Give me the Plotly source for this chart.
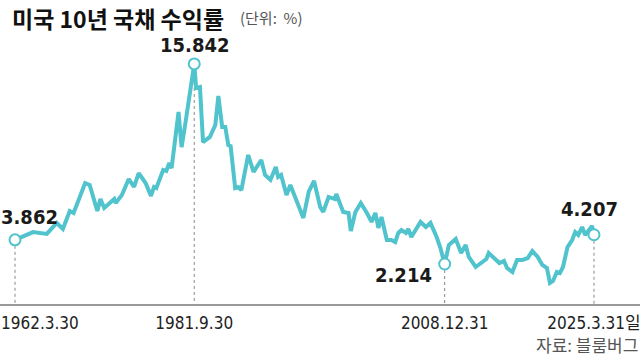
import plotly.graph_objects as go

# ---- data ----
dates = [
    "1962-03-30", "1962-10-15", "1964-03-15", "1965-09-15", "1966-10-15", "1967-06-15",
    "1968-03-15", "1968-08-15", "1969-11-15", "1970-05-15", "1971-03-15", "1971-07-15",
    "1971-12-15", "1973-01-15", "1973-03-15", "1973-11-15", "1974-08-15", "1975-03-15",
    "1975-09-15", "1976-06-15", "1977-01-15", "1977-05-15", "1977-08-15", "1978-05-15",
    "1978-09-15", "1979-01-15", "1979-04-15", "1980-01-15", "1980-05-15", "1980-10-15",
    "1981-03-15", "1981-09-30", "1981-12-15", "1982-05-15", "1982-09-15", "1983-06-15",
    "1984-01-15", "1984-05-15", "1984-10-15", "1985-02-15", "1985-06-15", "1985-09-15",
    "1986-03-15", "1986-07-15", "1986-11-15", "1987-08-15", "1988-03-15", "1989-01-15",
    "1989-06-15", "1990-01-15", "1990-08-15", "1990-11-15", "1991-03-15", "1991-10-15",
    "1992-03-15", "1993-08-15", "1994-03-15", "1994-10-15", "1995-06-15", "1995-10-15",
    "1996-05-15", "1997-01-15", "1997-03-15", "1997-12-15", "1998-07-15", "1998-10-15",
    "1999-04-15", "1999-11-15", "2000-07-15", "2001-01-15", "2001-06-15", "2001-10-15",
    "2002-02-15", "2002-09-15", "2003-03-15", "2003-08-15", "2003-12-15", "2004-04-15",
    "2004-10-15", "2005-01-15", "2005-05-15", "2006-05-15", "2006-12-15", "2007-06-15",
    "2008-02-15", "2008-07-15", "2008-12-31", "2009-06-15", "2010-03-15", "2010-10-15",
    "2011-04-15", "2011-08-15", "2012-05-15", "2012-09-15", "2013-07-15", "2013-10-15",
    "2014-05-15", "2014-12-15", "2015-06-15", "2015-10-15", "2016-05-15", "2016-11-15",
    "2017-06-15", "2018-01-15", "2018-07-15", "2019-02-15", "2019-08-15", "2020-02-15",
    "2020-06-15", "2020-10-15", "2021-03-15", "2021-07-15", "2021-11-15", "2022-05-15",
    "2022-11-15", "2023-03-15", "2023-07-15", "2023-12-15", "2024-04-15", "2024-08-15",
    "2025-01-15", "2025-03-31",
]
yields = [
    3.862, 3.99, 4.39, 4.26, 5.01, 4.60,
    5.82, 5.69, 7.73, 7.60, 5.82, 6.64,
    6.03, 6.64, 6.37, 6.91, 8.00, 7.46,
    8.41, 7.73, 6.85, 7.46, 7.39, 8.62,
    8.55, 9.09, 8.75, 12.57, 10.18, 11.82,
    13.60, 15.842, 14.20, 14.27, 10.52, 10.87,
    11.68, 13.66, 11.55, 11.55, 10.32, 10.25,
    7.39, 7.46, 7.25, 9.64, 8.48, 9.30,
    8.28, 7.94, 8.82, 8.14, 8.28, 6.91,
    7.60, 5.35, 7.12, 7.87, 6.10, 5.76,
    6.78, 6.64, 6.98, 5.76, 5.69, 4.46,
    5.76, 6.37, 5.69, 5.08, 5.69, 4.67,
    5.42, 3.85, 3.85, 3.71, 4.33, 4.53,
    4.33, 4.60, 4.05, 5.08, 4.73, 5.01,
    4.05, 3.30, 2.214, 3.51, 3.92, 2.96,
    3.51, 2.69, 2.01, 2.15, 2.55, 2.96,
    2.62, 2.28, 2.42, 1.94, 1.67, 2.49,
    2.49, 2.62, 3.10, 2.69, 2.15, 1.94,
    0.92, 1.06, 1.67, 1.60, 2.01, 3.37,
    3.85, 4.39, 4.19, 4.73, 4.19, 4.46,
    4.80, 4.207,
]

hl_dates = ["1962-03-30", "1981-09-30", "2008-12-31", "2025-03-31"]
hl_values = [3.862, 15.842, 2.214, 4.207]
hl_labels = ["3.862", "15.842", "2.214", "4.207"]
tick_labels = ["1962.3.30", "1981.9.30", "2008.12.31", "2025.3.31일"]

title_text = "미국 10년 국채 수익률"
unit_text = "(단위:  %)"
source_text = "자료: 블룸버그"

# ---- style ----
TEAL = "#50C3CD"
NARROW = "Liberation Sans Narrow, DejaVu Sans Condensed, Noto Sans CJK KR, sans-serif"
Y_MIN, Y_MAX = -0.511, 20.198
PLOT_H = 304.0


def py(px):
    """pixel row -> paper y (plot area spans rows 0..304)"""
    return (PLOT_H - px) / PLOT_H


fig = go.Figure()

fig.add_trace(go.Scatter(
    x=dates, y=yields, mode="lines",
    line=dict(color=TEAL, width=4),
    hoverinfo="skip", showlegend=False,
))

# dotted drop lines
for d, v in zip(hl_dates, hl_values):
    fig.add_shape(type="line", xref="x", yref="y", x0=d, x1=d, y0=v, y1=Y_MIN,
                  line=dict(color="#888888", width=1, dash="dot"), layer="below")

fig.add_trace(go.Scatter(
    x=hl_dates, y=hl_values, mode="markers",
    marker=dict(size=11, color="white", line=dict(color=TEAL, width=2)),
    hoverinfo="skip", showlegend=False,
))

shifts = [(14, 23), (0, 19), (-41, -11), (-4, 26)]
for d, v, t, (xs, ys) in zip(hl_dates, hl_values, hl_labels, shifts):
    fig.add_annotation(x=d, y=v, xref="x", yref="y", text=t, showarrow=False,
                       xshift=xs, yshift=ys,
                       font=dict(family=NARROW, size=20, color="#1a1a1a", weight="bold"))

# first date label sits flush with the left edge (not centred under its tick)
fig.add_annotation(x=0, y=py(323), xref="paper", yref="paper", text=tick_labels[0],
                   showarrow=False, xanchor="left", yanchor="middle", borderpad=0,
                   font=dict(family=NARROW, size=17, color="#222222"))

fig.add_annotation(x=11 / 640, y=py(0), xref="paper", yref="paper",
                   text="<b>" + title_text + "</b>", showarrow=False,
                   xanchor="left", yanchor="top", borderpad=0,
                   font=dict(family="Noto Sans CJK KR", size=23, color="#111111"))
fig.add_annotation(x=238 / 640, y=py(17), xref="paper", yref="paper",
                   text=unit_text, showarrow=False, xanchor="left", yanchor="middle",
                   font=dict(family="Noto Sans CJK KR", size=15, color="#555555"))
fig.add_annotation(x=639 / 640, y=py(358), xref="paper", yref="paper",
                   text=source_text, showarrow=False, xanchor="right", yanchor="bottom",
                   borderpad=0,
                   font=dict(family="Noto Sans CJK KR", size=17, color="#555555"))

fig.update_layout(
    width=640, height=358,
    margin=dict(l=0, r=0, t=0, b=54, autoexpand=False),
    paper_bgcolor="white", plot_bgcolor="white",
    xaxis=dict(
        type="date", range=["1960-08-11", "2030-04-03"],
        showgrid=False, zeroline=False, automargin=False,
        showline=True, linecolor="#999999", linewidth=1.5,
        tickvals=hl_dates[1:], ticktext=tick_labels[1:], ticks="",
        ticklabeloverflow="allow", ticklabelstandoff=3,
        tickfont=dict(family=NARROW, size=17, color="#222222"),
    ),
    yaxis=dict(range=[Y_MIN, Y_MAX], visible=False, showgrid=False, zeroline=False,
               automargin=False),
    showlegend=False,
)

fig.write_html("out.html", post_script="document.body.style.margin='0';",
               config={"displayModeBar": False})
